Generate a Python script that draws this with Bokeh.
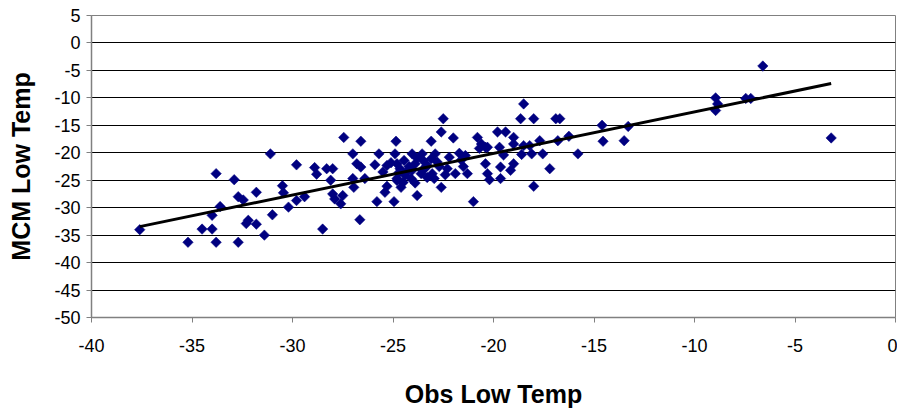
import math
from bokeh.plotting import figure
from bokeh.models import FixedTicker, Label, ColumnDataSource
from bokeh.embed import file_html
from bokeh.resources import INLINE

# ---- data ----
obs_temp = [
    -37.6, -35.2, -34.5, -34.0, -34.0, -33.8, -33.8, -33.6, -32.9, -32.7,
    -32.7, -32.45, -32.3, -32.2, -31.8, -31.8, -31.4, -31.1, -31.0, -30.5,
    -30.45, -30.2, -29.8, -29.8, -29.4, -28.9, -28.8, -28.5, -28.3, -28.0,
    -28.1, -28.0, -27.9, -27.6, -27.5, -27.45, -27.0, -27.0, -26.95, -26.8,
    -26.65, -26.6, -26.6, -26.4, -25.9, -25.8, -25.7, -25.5, -25.3, -25.3,
    -25.4, -24.95, -24.85, -24.9, -24.8, -24.65, -24.8, -24.6, -24.8, -24.45,
    -24.4, -24.5, -24.05, -24.05, -23.9, -24.1, -23.8, -23.55, -23.5, -23.55,
    -23.6, -23.3, -23.3, -23.1, -23.1, -23.05, -22.95, -22.9, -22.8, -22.6,
    -22.5, -22.6, -22.3, -22.0, -21.9, -21.7, -21.6, -21.4, -21.5, -21.3,
    -21.0, -20.8, -20.6, -20.7, -20.4, -20.3, -20.4, -20.3, -20.2, -19.8,
    -19.4, -19.7, -19.65, -19.65, -19.5, -19.0, -19.0, -19.0, -19.15, -18.5,
    -18.65, -18.5, -18.6, -18.2, -18.1, -18.0, -18.0, -17.7, -17.55, -17.2,
    -16.9, -16.7, -16.8, -16.25, -15.8, -14.6, -14.55, -13.5, -13.3, -8.95,
    -8.85, -8.95, -7.45, -7.2, -6.6, -3.2,
    -24.2, -23.8, -22.7, -23.9, -24.7, -22.2, -25.1, -23.4, -22.4, -24.3,
]
mcm_temp = [
    -34.0, -36.3, -33.9, -33.9, -31.4, -23.8, -36.3, -29.8, -24.9, -36.3,
    -28.0, -28.6, -32.9, -32.3, -27.2, -33.0, -35.0, -20.2, -31.3, -26.0,
    -27.3, -29.9, -22.2, -28.7, -28.0, -22.7, -23.9, -33.9, -22.9, -22.9,
    -25.0, -27.5, -28.4, -29.3, -27.8, -17.2, -24.7, -20.2, -26.3, -22.0,
    -32.2, -17.9, -22.6, -24.7, -22.2, -28.9, -20.2, -23.5, -22.3, -26.1,
    -27.2, -28.9, -17.9, -20.2, -22.0, -22.9, -24.7, -26.3, -25.05, -21.4,
    -24.1, -25.4, -20.2, -23.2, -22.0, -24.7, -27.8, -20.2, -21.4, -23.2,
    -23.8, -22.3, -24.5, -17.9, -21.1, -23.8, -24.7, -20.2, -21.7, -16.2,
    -13.8, -26.3, -22.9, -17.3, -23.8, -20.1, -21.3, -20.5, -22.5, -23.8,
    -28.9, -17.2, -18.4, -19.2, -19.0, -19.0, -22.0, -23.8, -24.9, -16.2,
    -16.2, -19.0, -22.6, -24.7, -20.4, -17.2, -18.4, -22.0, -23.2, -11.1,
    -13.8, -18.7, -20.3, -18.7, -20.2, -13.8, -26.1, -17.8, -20.2, -22.9,
    -13.8, -13.8, -17.8, -17.0, -20.2, -15.0, -17.9, -17.8, -15.2, -10.0,
    -11.1, -12.3, -10.1, -10.1, -4.2, -17.3,
    -22.5, -21.0, -22.5, -25.5, -23.6, -20.8, -21.8, -22.8, -24.0, -23.4,
]
# linear trendline
trend_x = [-37.6, -3.2]
trend_y = [-33.45, -7.4]
correlation_text = "Correlation = 0.8083111"
x_ticks = [-40, -35, -30, -25, -20, -15, -10, -5, 0]
x_tick_labels = ["-40", "-35", "-30", "-25", "-20", "-15", "-10", "-5", "0"]
y_ticks = [5, 0, -5, -10, -15, -20, -25, -30, -35, -40, -45, -50]
y_tick_labels = ["5", "0", "-5", "-10", "-15", "-20", "-25", "-30", "-35", "-40", "-45", "-50"]

FONT = "Liberation Sans"

p = figure(
    width=897, height=410,
    x_range=(-40, 0), y_range=(-50, 5),
    output_backend="svg", toolbar_location=None,
    min_border_left=91, min_border_right=2, min_border_top=15, min_border_bottom=93,
)
p.background_fill_color = "white"
p.border_fill_color = "white"
p.outline_line_color = "#808080"
p.outline_line_width = 1

src = ColumnDataSource(dict(x=obs_temp, y=mcm_temp))
p.scatter("x", "y", source=src, marker="square", angle=math.pi / 4, size=7.4,
          fill_color="#000080", line_color="#000080", line_width=0.5)
p.line(trend_x, trend_y, line_color="black", line_width=3)

p.xaxis.ticker = FixedTicker(ticks=x_ticks)
p.yaxis.ticker = FixedTicker(ticks=y_ticks)
p.xaxis.major_label_overrides = dict(zip(x_ticks, x_tick_labels))
p.yaxis.major_label_overrides = dict(zip(y_ticks, y_tick_labels))
p.xgrid.visible = False
p.ygrid.grid_line_color = "black"
p.ygrid.grid_line_width = 1

for ax in (p.xaxis, p.yaxis):
    ax.axis_line_color = "#808080"
    ax.axis_line_width = 1.5
    ax.major_tick_line_color = "#808080"
    ax.major_tick_out = 5
    ax.major_tick_in = 0
    ax.minor_tick_line_color = None
    ax.major_label_text_font = FONT
    ax.major_label_text_font_size = "18px"
    ax.major_label_text_color = "black"
    ax.axis_label_text_font = FONT
    ax.axis_label_text_font_size = "25px"
    ax.axis_label_text_font_style = "bold"
    ax.axis_label_text_color = "black"

p.xaxis.axis_label = "Obs Low Temp"
p.yaxis.axis_label = "MCM Low Temp"
p.xaxis.major_label_standoff = 16
p.yaxis.major_label_standoff = 6
p.xaxis.axis_label_standoff = 25
p.yaxis.axis_label_standoff = 16

p.add_layout(Label(x=-2.14, y=7.0, text=correlation_text, text_align="right",
                   text_baseline="alphabetic", text_font=FONT,
                   text_font_size="23px", text_color="black"))

open("out.html", "w").write(file_html(p, INLINE))
